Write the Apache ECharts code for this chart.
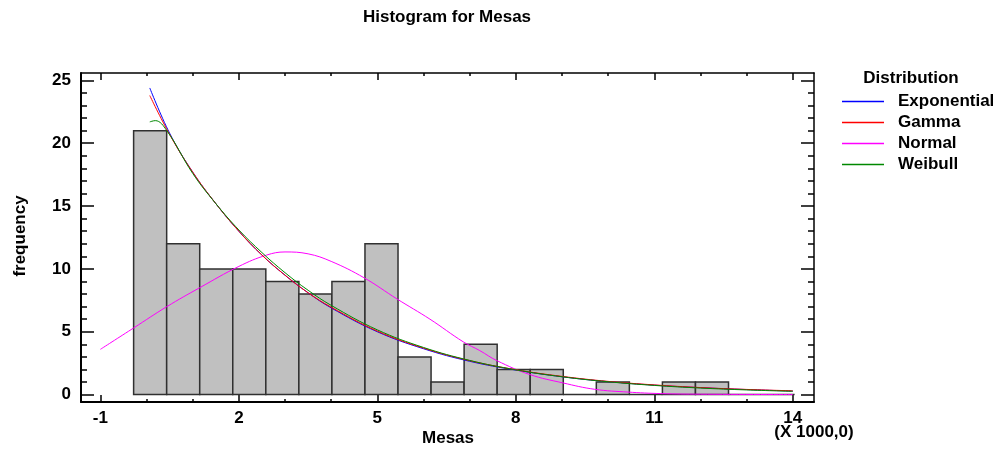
<!DOCTYPE html>
<html>
<head>
<meta charset="utf-8">
<script src="https://cdn.jsdelivr.net/npm/echarts@6/dist/echarts.min.js"></script>
<style>
  html, body { margin: 0; padding: 0; background: #fff; }
  #main { width: 1000px; height: 451px; }
</style>
</head>
<body>
<div id="main"></div>
<script>
// histogram bins (x in thousands)
var binStart = -0.28;
var binWidth = 0.716;
var counts = [21, 12, 10, 10, 9, 8, 9, 12, 3, 1, 4, 2, 2, 0, 1, 0, 1, 1, 0, 0];

// fitted curves
var expCurve = [[0.07, 24.4], [0.5, 20.8], [1.0, 17.7], [1.5, 15.2], [2.0, 13.0], [2.5, 11.1], [3.0, 9.5],
    [3.5, 8.1], [4.0, 6.9], [5.0, 5.0], [6.0, 3.65], [7.0, 2.65], [8.0, 1.95], [9.0, 1.42], [10.0, 1.03],
    [11.0, 0.75], [12.0, 0.55], [13.0, 0.4], [14.0, 0.28]];
var gammaCurve = [[0.07, 23.8], [0.5, 20.7], [1.0, 17.7], [1.5, 15.2], [2.0, 13.0], [2.5, 11.1], [3.0, 9.5],
    [3.5, 8.1], [4.0, 6.95], [5.0, 5.05], [6.0, 3.7], [7.0, 2.7], [8.0, 1.98], [9.0, 1.45], [10.0, 1.05],
    [11.0, 0.77], [12.0, 0.56], [13.0, 0.41], [14.0, 0.3]];
var normalCurve = [[-1.0, 3.6], [-0.28, 5.3], [0.44, 7.0], [1.15, 8.5], [2.0, 10.2], [2.6, 11.1],
    [3.0, 11.35], [3.5, 11.2], [4.0, 10.6], [4.71, 9.3], [5.43, 7.6], [6.14, 6.0], [6.86, 4.2],
    [7.22, 3.5], [7.59, 2.7], [8.3, 1.6], [9.02, 0.93], [9.71, 0.42], [10.43, 0.2], [11.14, 0.08],
    [12.0, 0.03], [14.0, 0.0]];
var weibullCurve = [[0.07, 21.7], [0.19, 21.8], [0.44, 21.0], [1.0, 17.6], [1.5, 15.2], [2.0, 13.1],
    [2.5, 11.3], [3.0, 9.7], [3.5, 8.3], [4.0, 7.1], [5.0, 5.15], [6.0, 3.75], [7.0, 2.72], [8.0, 1.97],
    [9.0, 1.42], [10.0, 1.02], [11.0, 0.73], [12.0, 0.52], [13.0, 0.37], [14.0, 0.26]];

var xMajor = [-1, 2, 5, 8, 11, 14];
var xMinor = [];
for (var i = -1; i <= 14; i++) xMinor.push(i);
var yMajor = [0, 5, 10, 15, 20, 25];
var yMinor = [];
for (var j = 0; j <= 25; j++) yMinor.push(j);

var bins = counts.map(function (c, k) {
    return [binStart + k * binWidth, binStart + (k + 1) * binWidth, c];
});

var font = 'Liberation Sans, Arial, sans-serif';
var fs = 17;
var xMin = -1.42, xMax = 14.46, yMin = -0.59, yMax = 25.59;

function xAx(pos, ticks, len, labels, line) {
    return {
        type: 'value', position: pos, min: xMin, max: xMax,
        axisLine: { show: line, onZero: false, lineStyle: { color: '#000', width: pos === 'bottom' ? 2 : 1.5 } },
        axisTick: { show: true, inside: true, length: len, customValues: ticks, lineStyle: { color: '#000', width: 1.5 } },
        axisLabel: labels ? { show: true, customValues: xMajor, color: '#000', fontFamily: font, fontWeight: 'bold', fontSize: fs, margin: 8 } : { show: false },
        splitLine: { show: false }
    };
}
function yAx(pos, ticks, len, labels, line) {
    return {
        type: 'value', position: pos, min: yMin, max: yMax,
        axisLine: { show: line, onZero: false, lineStyle: { color: '#000', width: pos === 'left' ? 2 : 1.5 } },
        axisTick: { show: true, inside: true, length: len, customValues: ticks, lineStyle: { color: '#000', width: 1.5 } },
        axisLabel: labels ? { show: true, customValues: yMajor, color: '#000', fontFamily: font, fontWeight: 'bold', fontSize: fs, margin: 10 } : { show: false },
        splitLine: { show: false }
    };
}

var chart = echarts.init(document.getElementById('main'));
chart.setOption({
    animation: false,
    backgroundColor: '#fff',
    graphic: [
        { type: 'text', x: 447, y: 17, style: { text: 'Histogram for Mesas', fontFamily: font, fontWeight: 'bold', fontSize: fs, fill: '#000', align: 'center', verticalAlign: 'middle' } },
        { type: 'text', x: 911, y: 78, style: { text: 'Distribution', fontFamily: font, fontWeight: 'bold', fontSize: fs, fill: '#000', align: 'center', verticalAlign: 'middle' } },
        { type: 'text', x: 814, y: 432, style: { text: '(X 1000,0)', fontFamily: font, fontWeight: 'bold', fontSize: fs, fill: '#000', align: 'center', verticalAlign: 'middle' } },
        { type: 'text', x: 448, y: 438, style: { text: 'Mesas', fontFamily: font, fontWeight: 'bold', fontSize: fs, fill: '#000', align: 'center', verticalAlign: 'middle' } },
        { type: 'text', x: 20, y: 236, rotation: Math.PI / 2, style: { text: 'frequency', fontFamily: font, fontWeight: 'bold', fontSize: fs, fill: '#000', align: 'center', verticalAlign: 'middle' } }
    ],
    legend: {
        orient: 'vertical', left: 842, top: 93, itemGap: 4, padding: 0,
        itemWidth: 42, itemHeight: 1.5, icon: 'rect',
        textStyle: { fontFamily: font, fontWeight: 'bold', fontSize: fs, color: '#000', padding: [0, 0, 0, 9] },
        data: ['Exponential', 'Gamma', 'Normal', 'Weibull']
    },
    grid: { left: 81, right: 186, top: 73, bottom: 49 },
    xAxis: [
        xAx('bottom', xMinor, 3, true, true),
        xAx('bottom', xMajor, 7, false, false),
        xAx('top', xMinor, 3, false, true),
        xAx('top', xMajor, 7, false, false)
    ],
    yAxis: [
        yAx('left', yMinor, 6, true, true),
        yAx('left', yMajor, 13, false, false),
        yAx('right', yMinor, 6, false, true),
        yAx('right', yMajor, 13, false, false)
    ],
    series: [
        {
            type: 'custom', name: 'hist', xAxisIndex: 0, yAxisIndex: 0,
            data: bins,
            renderItem: function (params, api) {
                var p0 = api.coord([api.value(0), 0]);
                var p1 = api.coord([api.value(1), api.value(2)]);
                return {
                    type: 'rect',
                    shape: { x: p0[0], y: p1[1], width: p1[0] - p0[0], height: p0[1] - p1[1] },
                    style: { fill: '#c0c0c0', stroke: '#303030', lineWidth: 1.5 }
                };
            },
            z: 1
        },
        { type: 'line', name: 'Exponential', data: expCurve, smooth: 0.4, showSymbol: false, symbol: 'none', lineStyle: { color: '#0000ff', width: 1 }, itemStyle: { color: '#0000ff' }, z: 3 },
        { type: 'line', name: 'Gamma', data: gammaCurve, smooth: 0.4, showSymbol: false, symbol: 'none', lineStyle: { color: '#ff0000', width: 1 }, itemStyle: { color: '#ff0000' }, z: 4 },
        { type: 'line', name: 'Normal', data: normalCurve, smooth: 0.4, showSymbol: false, symbol: 'none', lineStyle: { color: '#ff00ff', width: 1 }, itemStyle: { color: '#ff00ff' }, z: 3 },
        { type: 'line', name: 'Weibull', data: weibullCurve, smooth: 0.4, showSymbol: false, symbol: 'none', lineStyle: { color: '#008800', width: 1 }, itemStyle: { color: '#008800' }, z: 5 }
    ]
});
</script>
</body>
</html>
